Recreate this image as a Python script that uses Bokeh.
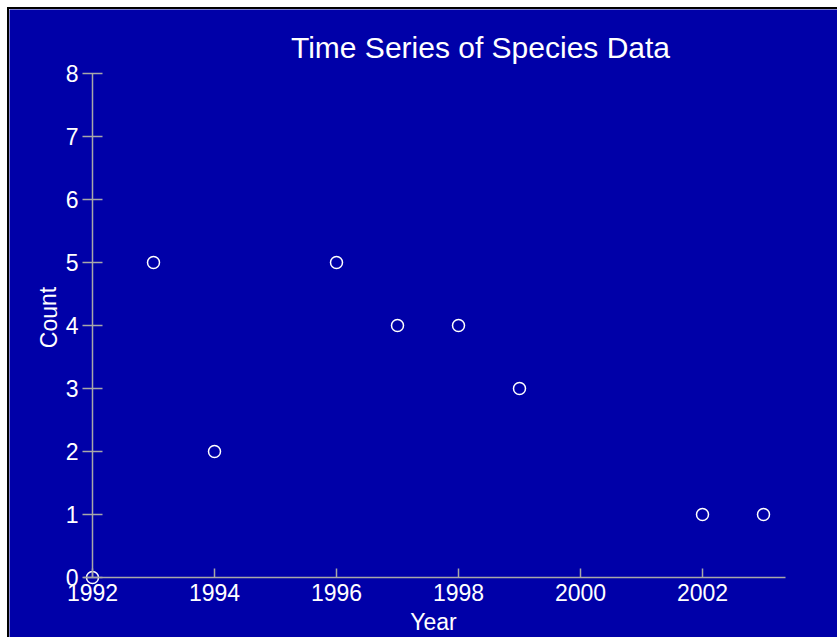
from bokeh.plotting import figure
from bokeh.models import Range1d, FixedTicker, Label
from bokeh.embed import file_html
from bokeh.resources import INLINE

years = [1992, 1993, 1994, 1996, 1997, 1998, 1999, 2002, 2003]
counts = [0, 5, 2, 5, 4, 4, 3, 1, 1]
x_ticks = [1992, 1994, 1996, 1998, 2000, 2002]
y_ticks = [0, 1, 2, 3, 4, 5, 6, 7, 8]
title_text = "Time Series of Species Data"
x_label = "Year"
y_label = "Count"

BG = "#0000A8"
FG = "#FFFFFF"
AX = "#A8A8A8"
FONT = "Liberation Sans"

# layout (pixels on the canvas)
W, H = 830, 630
X0_PX, XPX_PER = 83, 61.0      # canvas x of 1992, px per year
Y0_PX, YPX_PER = 568, 63.0     # canvas y (from top) of count 0, px per unit

def xv(px):
    return 1992 + (px - X0_PX) / XPX_PER

def yv(py):
    return (Y0_PX - py) / YPX_PER

p = figure(
    output_backend="svg", toolbar_location=None,
    width=W, height=H, min_border=0,
    x_range=Range1d(xv(0), xv(W)), y_range=Range1d(yv(H), yv(0)),
    background_fill_color=BG, border_fill_color=BG,
)
p.styles = {"border-top": "2px solid black", "border-left": "2px solid black",
            "margin": "7px 0 0 7px"}
p.outline_line_color = None
p.grid.visible = False

p.scatter(years, counts, marker="circle", size=12, fill_color=None,
          line_color=FG, line_width=1.5)

for ax in (p.xaxis[0], p.yaxis[0]):
    ax.axis_line_color = AX
    ax.axis_line_width = 1.5
    ax.major_tick_line_color = AX
    ax.major_tick_line_width = 1.5
    ax.minor_tick_line_color = None
    ax.major_label_text_color = FG
    ax.major_label_text_font = FONT
    ax.major_label_text_font_size = "23px"

p.xaxis.fixed_location = 0
p.yaxis.fixed_location = 1992
p.xaxis.bounds = (xv(74), xv(776))
p.yaxis.bounds = (0, 8)
p.xaxis.ticker = FixedTicker(ticks=x_ticks)
p.yaxis.ticker = FixedTicker(ticks=y_ticks)
p.xaxis.major_tick_in = 9
p.xaxis.major_tick_out = 0
p.yaxis.major_tick_in = 10
p.yaxis.major_tick_out = 10
p.xaxis.major_label_standoff = 6
p.yaxis.major_label_standoff = 4

common = dict(text_color=FG, text_font=FONT, text_align="center",
              text_baseline="middle")
p.add_layout(Label(x=xv(471), y=yv(38), text=title_text,
                   text_font_size="30px", **common))
p.add_layout(Label(x=xv(424), y=yv(612), text=x_label,
                   text_font_size="23px", **common))
p.add_layout(Label(x=xv(39), y=yv(308), text=y_label, angle=1.5708,
                   text_font_size="23px", **common))

open("out.html", "w").write(file_html(p, INLINE))
